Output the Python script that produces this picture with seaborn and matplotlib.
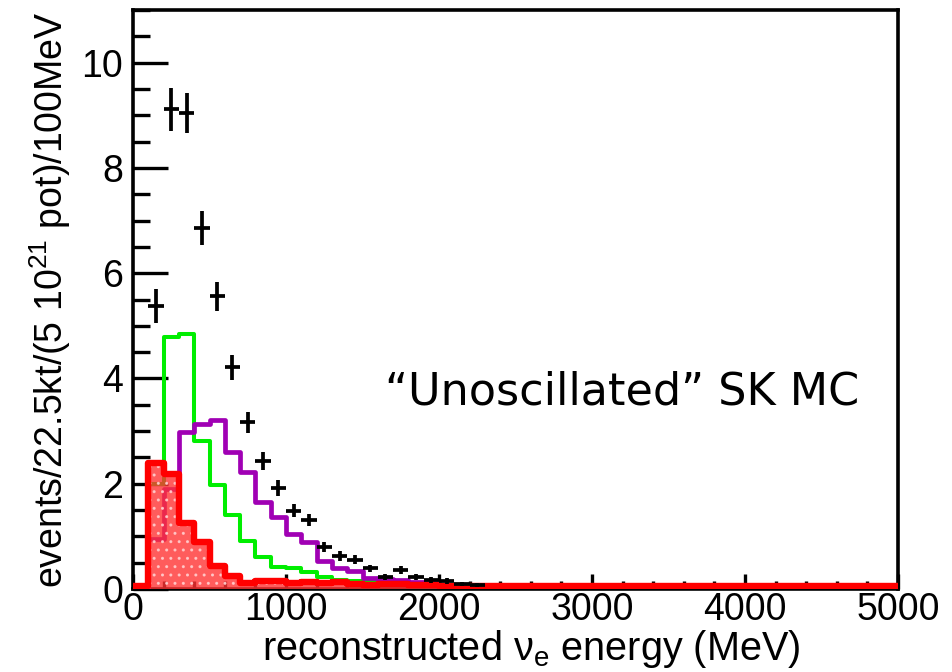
import numpy as np
import pandas as pd
import matplotlib
matplotlib.use("Agg")
import matplotlib.pyplot as plt
import seaborn as sns
from matplotlib.ticker import MultipleLocator

# 100 MeV bins from 0 to 5000 MeV
bin_width = 100
e_min, e_max = 0, 5000
centers = np.arange(e_min, e_max, bin_width) + bin_width / 2

# Beam nu_e background (red, filled)
red_vals = [0.05, 2.39, 2.19, 1.26, 0.90, 0.44, 0.24, 0.11, 0.15, 0.15,
            0.11, 0.13, 0.11, 0.13, 0.10, 0.08, 0.10, 0.09, 0.08, 0.07] + [0.05] * 30
# Signal-like component (green)
green_vals = [0.0, 2.00, 4.79, 4.84, 2.81, 1.97, 1.40, 0.92, 0.61, 0.42,
              0.40, 0.32, 0.22, 0.17, 0.15, 0.14, 0.12, 0.10, 0.08, 0.05] + [0.0] * 30
# Second MC component (purple)
purple_vals = [0.0, 0.95, 1.90, 2.98, 3.14, 3.21, 2.60, 2.22, 1.66, 1.37,
               1.05, 0.90, 0.54, 0.40, 0.34, 0.21, 0.19, 0.18, 0.14, 0.12,
               0.06, 0.04] + [0.0] * 28

# Total prediction shown as crosses
data_x = [150, 250, 350, 450, 550, 650, 750, 850, 950, 1050, 1150,
          1250, 1350, 1450, 1550, 1650, 1750, 1850, 1950, 2050, 2150, 2250]
data_y = [5.38, 9.11, 9.04, 6.86, 5.56, 4.21, 3.17, 2.43, 1.92, 1.49, 1.31,
          0.80, 0.63, 0.56, 0.39, 0.23, 0.36, 0.23, 0.17, 0.15, 0.10, 0.08]
data_err = [0.32, 0.40, 0.38, 0.32, 0.27, 0.24, 0.20, 0.17, 0.15, 0.13, 0.12,
            0.10, 0.09, 0.08, 0.07, 0.06, 0.07, 0.06, 0.06, 0.05, 0.04, 0.04]

df = pd.DataFrame({"energy": centers, "red": red_vals,
                   "green": green_vals, "purple": purple_vals})

sns.set_style("white")
plt.rcParams["font.family"] = ["Liberation Sans", "DejaVu Sans"]
plt.rcParams["text.color"] = "black"
plt.rcParams["axes.labelcolor"] = "black"
plt.rcParams["xtick.color"] = "black"
plt.rcParams["ytick.color"] = "black"
plt.rcParams["hatch.linewidth"] = 1.0

fig = plt.figure(figsize=(9.52, 6.72), dpi=100)
ax = fig.add_axes([133 / 952, 1 - 589 / 672, (898 - 133) / 952, (589 - 10) / 672])

green_c = "#00ee00"
purple_c = "#a000b4"
red_c = "#ff0000"

hist_kw = dict(x="energy", binwidth=bin_width, binrange=(e_min, e_max),
               element="step", ax=ax)

sns.histplot(data=df, weights="green", fill=False, color=green_c,
             linewidth=2.9, zorder=2, **hist_kw)
sns.histplot(data=df, weights="purple", fill=False, color=purple_c,
             linewidth=3.4, zorder=3, **hist_kw)
# Red: dotted translucent fill plus thick outline
n_before = len(ax.collections)
sns.histplot(data=df, weights="red", fill=True, color=red_c, alpha=0.8,
             linewidth=0, hatch="..", zorder=4, **hist_kw)
for coll in ax.collections[n_before:]:
    coll.set_facecolor((1.0, 0.2, 0.2, 0.8))
    coll.set_edgecolor((1.0, 0.8, 0.8, 0.85))
sns.histplot(data=df, weights="red", fill=False, color=red_c,
             linewidth=4.6, zorder=5, **hist_kw)

ax.errorbar(data_x, data_y, yerr=data_err, xerr=bin_width / 2, fmt="none",
            ecolor="black", elinewidth=2.7, capsize=0, zorder=6)

ax.set_xlim(e_min, e_max)
ax.set_ylim(0, 11)
ax.xaxis.set_major_locator(MultipleLocator(1000))
ax.xaxis.set_minor_locator(MultipleLocator(200))
ax.yaxis.set_major_locator(MultipleLocator(2))
ax.yaxis.set_minor_locator(MultipleLocator(0.5))

ax.tick_params(axis="y", which="major", direction="in", length=25, width=2.4,
               labelsize=27, pad=7)
ax.tick_params(axis="y", which="minor", direction="in", length=12.5, width=2.4)
ax.tick_params(axis="x", which="major", direction="in", length=11, width=2.4,
               labelsize=27, pad=2)
ax.tick_params(axis="x", which="minor", direction="in", length=5.5, width=2.4)
ax.tick_params(left=True, bottom=True, which="both")

for sp in ax.spines.values():
    sp.set_linewidth(2.6)
    sp.set_color("black")

ax.set_xlabel(r"reconstructed $\mathregular{\nu_e}$ energy (MeV)", fontsize=28.5,
              labelpad=0, x=0.52)
ax.set_ylabel(r"events/22.5kt/(5 10$\mathregular{^{21}}$ pot)/100MeV", fontsize=27,
              labelpad=6)

ax.text(1650, 3.75, "\u201cUnoscillated\u201d SK MC", fontsize=32,
        family=["DejaVu Sans"], va="center", ha="left", zorder=7)

fig.savefig("out.png", dpi=100)
